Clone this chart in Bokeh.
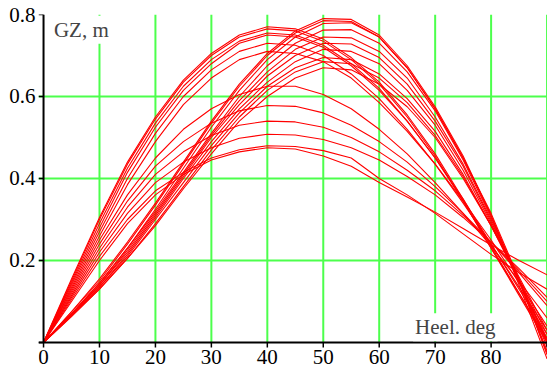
import math
from bokeh.plotting import figure
from bokeh.models import Range1d, FixedTicker, Span, Label, ColumnDataSource
from bokeh.embed import file_html
from bokeh.resources import INLINE

# Heel angles (deg)
heel_deg = [0, 5, 10, 15, 20, 25, 30, 35, 40, 45, 50, 55, 60, 65, 70, 75, 80, 85, 90]

# GZ curves (m) - steep start, peak ~40 deg
gz_a1 = [0, 0.155, 0.305, 0.44, 0.55, 0.64, 0.705, 0.75, 0.77, 0.765, 0.74, 0.695, 0.635, 0.555, 0.46, 0.35, 0.235, 0.12, 0.005]
gz_a2 = [0, 0.15, 0.30, 0.435, 0.545, 0.635, 0.70, 0.745, 0.765, 0.76, 0.735, 0.69, 0.63, 0.55, 0.455, 0.345, 0.23, 0.115, 0.0]
gz_a3 = [0, 0.145, 0.29, 0.425, 0.535, 0.625, 0.69, 0.735, 0.755, 0.75, 0.725, 0.68, 0.62, 0.54, 0.45, 0.345, 0.23, 0.12, 0.01]
gz_a4 = [0, 0.14, 0.28, 0.415, 0.525, 0.615, 0.68, 0.73, 0.75, 0.745, 0.72, 0.675, 0.615, 0.54, 0.45, 0.35, 0.24, 0.13, 0.02]
gz_a5 = [0, 0.135, 0.27, 0.40, 0.51, 0.60, 0.665, 0.71, 0.73, 0.725, 0.70, 0.655, 0.595, 0.52, 0.435, 0.34, 0.24, 0.135, 0.03]
gz_a6 = [0, 0.13, 0.26, 0.385, 0.49, 0.58, 0.645, 0.69, 0.71, 0.705, 0.685, 0.645, 0.585, 0.515, 0.435, 0.345, 0.25, 0.145, 0.04]

# GZ curves (m) - low maxima
gz_b1 = [0, 0.125, 0.25, 0.36, 0.45, 0.52, 0.57, 0.605, 0.625, 0.625, 0.605, 0.57, 0.52, 0.46, 0.39, 0.315, 0.235, 0.15, 0.06]
gz_b2 = [0, 0.12, 0.24, 0.345, 0.43, 0.49, 0.535, 0.565, 0.578, 0.576, 0.56, 0.53, 0.49, 0.44, 0.38, 0.315, 0.245, 0.17, 0.09]
gz_b3 = [0, 0.115, 0.23, 0.33, 0.41, 0.465, 0.505, 0.53, 0.54, 0.538, 0.525, 0.50, 0.465, 0.42, 0.37, 0.31, 0.245, 0.175, 0.10]
gz_b4 = [0, 0.11, 0.22, 0.315, 0.39, 0.44, 0.475, 0.498, 0.508, 0.506, 0.495, 0.475, 0.445, 0.405, 0.36, 0.305, 0.245, 0.18, 0.11]
gz_b5 = [0, 0.105, 0.21, 0.30, 0.37, 0.415, 0.45, 0.47, 0.48, 0.478, 0.468, 0.45, 0.40, 0.36, 0.315, 0.265, 0.215, 0.17, 0.13]
gz_b6 = [0, 0.10, 0.20, 0.29, 0.36, 0.41, 0.445, 0.465, 0.475, 0.472, 0.455, 0.43, 0.39, 0.355, 0.318, 0.278, 0.238, 0.20, 0.165]

# GZ curves (m) - slow start, peak ~50 deg
gz_c1 = [0, 0.075, 0.155, 0.245, 0.34, 0.44, 0.54, 0.63, 0.705, 0.76, 0.79, 0.788, 0.75, 0.675, 0.575, 0.455, 0.31, 0.14, -0.04]
gz_c2 = [0, 0.075, 0.15, 0.24, 0.335, 0.435, 0.535, 0.625, 0.70, 0.755, 0.785, 0.783, 0.745, 0.67, 0.57, 0.45, 0.315, 0.155, -0.03]
gz_c3 = [0, 0.07, 0.145, 0.23, 0.325, 0.425, 0.525, 0.615, 0.69, 0.745, 0.778, 0.78, 0.745, 0.67, 0.57, 0.45, 0.31, 0.15, -0.025]
gz_c4 = [0, 0.07, 0.145, 0.23, 0.32, 0.415, 0.51, 0.60, 0.675, 0.73, 0.762, 0.763, 0.73, 0.66, 0.565, 0.445, 0.305, 0.15, -0.02]
gz_c5 = [0, 0.07, 0.14, 0.225, 0.315, 0.41, 0.505, 0.59, 0.66, 0.715, 0.745, 0.743, 0.71, 0.645, 0.55, 0.435, 0.30, 0.15, -0.01]
gz_c6 = [0, 0.068, 0.14, 0.22, 0.31, 0.405, 0.50, 0.58, 0.65, 0.70, 0.73, 0.728, 0.695, 0.63, 0.54, 0.43, 0.295, 0.15, 0.0]
gz_c7 = [0, 0.068, 0.135, 0.215, 0.305, 0.40, 0.49, 0.57, 0.635, 0.685, 0.715, 0.71, 0.68, 0.615, 0.53, 0.42, 0.29, 0.15, 0.005]
gz_c8 = [0, 0.065, 0.135, 0.21, 0.30, 0.39, 0.48, 0.56, 0.625, 0.67, 0.695, 0.69, 0.655, 0.595, 0.515, 0.41, 0.285, 0.15, 0.01]
gz_c9 = [0, 0.065, 0.13, 0.205, 0.29, 0.38, 0.47, 0.55, 0.615, 0.66, 0.685, 0.68, 0.645, 0.585, 0.505, 0.405, 0.285, 0.155, 0.02]
gz_c10 = [0, 0.063, 0.13, 0.205, 0.285, 0.375, 0.46, 0.54, 0.60, 0.645, 0.67, 0.665, 0.63, 0.575, 0.50, 0.40, 0.285, 0.16, 0.03]

# Axes
x_ticks = [0, 10, 20, 30, 40, 50, 60, 70, 80, 90]
x_tick_labels = ["0", "10", "20", "30", "40", "50", "60", "70", "80", ""]
y_ticks = [0, 0.2, 0.4, 0.6, 0.8]
grid_x = [10, 20, 30, 40, 50, 60, 70, 80, 90]
grid_y = [0.2, 0.4, 0.6, 0.8]
y_label = "GZ, m"
x_label = "Heel. deg"

curves = [gz_a1, gz_a2, gz_a3, gz_a4, gz_a5, gz_a6,
          gz_b1, gz_b2, gz_b3, gz_b4, gz_b5, gz_b6,
          gz_c1, gz_c2, gz_c3, gz_c4, gz_c5, gz_c6, gz_c7, gz_c8, gz_c9, gz_c10]

SERIF = "Liberation Serif"
GREEN = "#4cff4c"
FS = "21px"

# frame starts a few pixels left of 0 deg so the "0" tick label is not clipped
p = figure(width=547, height=370, x_range=Range1d(-0.9, 90.08), y_range=Range1d(-0.0683, 0.8),
           output_backend="svg", toolbar_location=None, x_axis_type=None,
           min_border_left=38, min_border_right=0, min_border_top=14, min_border_bottom=0)
p.outline_line_color = None
p.background_fill_color = "white"
p.border_fill_color = "white"

# horizontal grid
p.ygrid.ticker = FixedTicker(ticks=grid_y)
p.ygrid.grid_line_color = GREEN
p.ygrid.grid_line_width = 2

# vertical grid lines (from axis up to top)
p.segment(x0=grid_x, x1=grid_x, y0=[y_ticks[0]] * len(grid_x), y1=[y_ticks[-1]] * len(grid_x),
          line_color=GREEN, line_width=2)

# y axis: labels from Bokeh's axis, line and ticks drawn at 0 deg
ax = p.yaxis[0]
ax.ticker = FixedTicker(ticks=y_ticks)
ax.major_label_overrides = {0: ""}
ax.axis_line_color = None
ax.major_tick_line_color = None
ax.minor_tick_line_color = None
ax.major_tick_in = 0
ax.major_tick_out = 0
ax.major_label_text_font = SERIF
ax.major_label_text_font_size = FS
ax.major_label_text_color = "black"
ax.major_label_standoff = 3

# curves
src = ColumnDataSource(dict(xs=[heel_deg] * len(curves), ys=curves))
p.multi_line(xs="xs", ys="ys", source=src, line_color="#ff0000", line_width=1.1)

# y axis line and ticks
p.segment(x0=[x_ticks[0]], y0=[y_ticks[0]], x1=[x_ticks[0]], y1=[y_ticks[-1]],
          line_color="black", line_width=2)
p.ray(x=[x_ticks[0]] * len(y_ticks), y=y_ticks, length=5, length_units="screen",
      angle=math.pi, line_color="black", line_width=1.5)

# x axis line and ticks at GZ = 0
p.add_layout(Span(location=0, dimension="width", line_color="black", line_width=2))
p.ray(x=x_ticks, y=[0] * len(x_ticks), length=5, length_units="screen",
      angle=-math.pi / 2, line_color="black", line_width=1.5)

for xt, lab in zip(x_ticks, x_tick_labels):
    if lab:
        p.add_layout(Label(x=xt, y=y_ticks[0], text=lab, text_align="center",
                           text_baseline="top", y_offset=-8, text_font=SERIF,
                           text_font_size=FS, text_color="black"))

p.add_layout(Label(x=1.5, y=0.763, text=y_label, text_font=SERIF, text_font_size=FS,
                   text_baseline="alphabetic", text_align="left",
                   background_fill_color="white", padding=2))
p.add_layout(Label(x=81.15, y=0.037, text=x_label, text_font=SERIF, text_font_size=FS,
                   text_baseline="alphabetic", text_align="right",
                   background_fill_color="white", padding=2))

open("out.html", "w").write(file_html(p, INLINE))
